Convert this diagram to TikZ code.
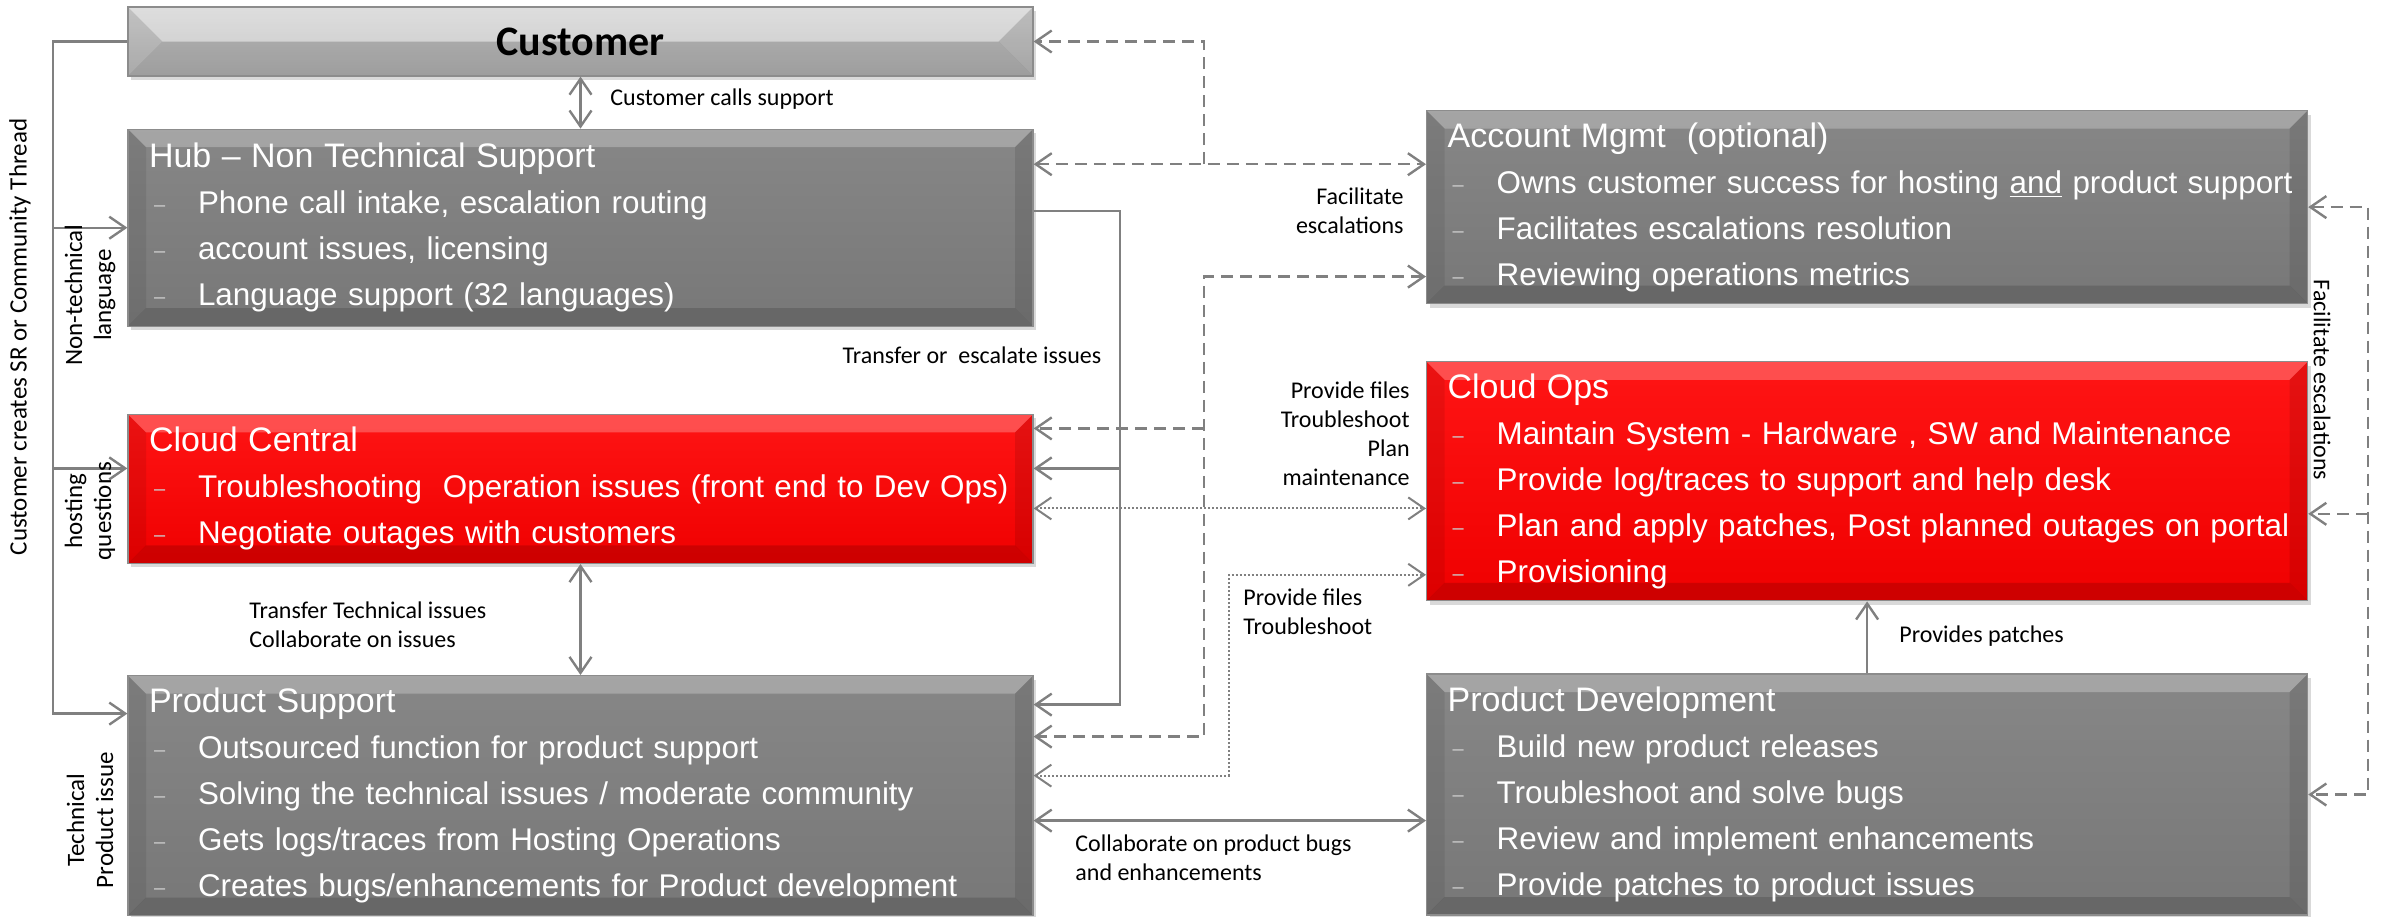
\documentclass[tikz,border=0pt]{standalone}
\usepackage{fontspec}
\setmainfont{Liberation Sans}
\newfontfamily\calib{Carlito}
\usepackage{tikz}
\usetikzlibrary{positioning,arrows.meta,shadows}
\definecolor{boxgray}{HTML}{7F7F7F}
\definecolor{boxred}{HTML}{FF0000}
\definecolor{custgray}{HTML}{C8C8C8}
\definecolor{lineg}{HTML}{808080}
\newcommand{\itm}[1]{\\\makebox[24.5pt][l]{\hspace{2.5pt}\raisebox{1pt}{\color{white!80!black}\fontsize{10pt}{10pt}\selectfont –}}\mbox{#1}}
\newcommand{\boxhead}[1]{{\fontsize{17pt}{23pt}\selectfont #1}}

\begin{document}
\begin{tikzpicture}[
x=0.5pt, y=-0.5pt,
>={Straight Barb[length=8pt,width=11pt]},
facets/.style 2 args={path picture={
  \path (path picture bounding box.north west) coordinate (f1)
        (path picture bounding box.north east) coordinate (f2)
        (path picture bounding box.south east) coordinate (f3)
        (path picture bounding box.south west) coordinate (f4);
  \path ([shift={(#1,-#2)}]f1) coordinate (g1) ([shift={(-#1,-#2)}]f2) coordinate (g2)
        ([shift={(-#1,#2)}]f3) coordinate (g3) ([shift={(#1,#2)}]f4) coordinate (g4);
  \fill[white,opacity=.25] (f1) -- (f2) -- (g2) -- (g1) -- cycle;
  \fill[black,opacity=.08] (f1) -- (g1) -- (g4) -- (f4) -- cycle;
  \fill[black,opacity=.10] (f2) -- (f3) -- (g3) -- (g2) -- cycle;
  \fill[black,opacity=.14] (f4) -- (g4) -- (g3) -- (f3) -- cycle;
}},
box/.style={draw=black!45, line width=0.6pt, align=left, inner xsep=10.5pt, inner ysep=0pt, text=white, font=\fontsize{15.7pt}{23pt}\selectfont, drop shadow={shadow xshift=1.5pt, shadow yshift=-2pt, opacity=.3}},
gbox/.style={box, top color=boxgray!94!white, bottom color=boxgray!94!black, facets={9pt}{9pt}},
rbox/.style={box, top color=boxred!92!white, bottom color=boxred!94!black, facets={9pt}{9pt}},
custbox/.style={draw=black!45, line width=0.6pt, top color=custgray!80!white, bottom color=custgray!92!black, facets={17.25pt}{17.25pt}, minimum width=452.5pt, minimum height=34.5pt, font=\calib\bfseries\fontsize{21pt}{24pt}\selectfont, drop shadow={shadow xshift=1.5pt, shadow yshift=-2pt, opacity=.3}},
leftcol/.style={text width=431.5pt},
rightcol/.style={text width=419.5pt},
arr/.style={->, line width=1.2pt, draw=lineg},
dl/.style={line width=1.2pt, draw=lineg, dash pattern=on 6pt off 3.5pt},
dotl/.style={line width=1pt, draw=lineg, dash pattern=on 1pt off 1pt},
lbl/.style={font=\calib\fontsize{12pt}{14.5pt}\selectfont, inner sep=0pt},
vlbl/.style={font=\calib\fontsize{12.5pt}{14.5pt}\selectfont, inner sep=0pt, align=center}
]
\useasboundingbox (0,0) rectangle (2391,916);

\node[custbox] (customer) at (580.5,41.5) {Customer};
\node[gbox, leftcol, minimum height=98.5pt, below=26pt of customer] (hub) {\boxhead{Hub – Non Technical Support}\itm{Phone call intake, escalation routing}\itm{account issues, licensing}\itm{Language support (32 languages)}};
\node[rbox, leftcol, minimum height=74.5pt, below=43.5pt of hub] (cc) {\boxhead{Cloud Central}\itm{Troubleshooting~ Operation issues (front end to Dev Ops)}\itm{Negotiate outages with customers}};
\node[gbox, leftcol, minimum height=120pt, below=55.5pt of cc] (ps) {\boxhead{Product Support}\itm{Outsourced function for product support}\itm{Solving the technical issues / moderate community}\itm{Gets logs/traces from Hosting Operations}\itm{Creates bugs/enhancements for Product development}};

\node[gbox, rightcol, minimum height=96.5pt, anchor=north west] (am) at (1426,110) {\boxhead{Account Mgmt~ (optional)}\itm{Owns customer success for hosting \underline{and} product support}\itm{Facilitates escalations resolution}\itm{Reviewing operations metrics}};
\node[rbox, rightcol, minimum height=119.5pt, below=28.5pt of am] (co) {\boxhead{Cloud Ops}\itm{Maintain System - Hardware , SW and Maintenance}\itm{Provide log/traces to support and help desk}\itm{Plan and apply patches, Post planned outages on portal}\itm{Provisioning}};
\node[gbox, rightcol, minimum height=120.5pt, below=36pt of co] (pd) {\boxhead{Product Development}\itm{Build new product releases}\itm{Troubleshoot and solve bugs}\itm{Review and implement enhancements}\itm{Provide patches to product issues}};

\coordinate (trL) at (53,0);
\coordinate (trR) at (1120,0);
\coordinate (trD) at (1204,0);
\coordinate (trP) at (1229,0);
\coordinate (trE) at (2368,0);
\coordinate (ps-l) at ([yshift=41pt]ps.west);
\coordinate (cc-l) at ([yshift=10.25pt]cc.west);
\coordinate (hub-r1) at ([yshift=8.25pt]hub.east);
\coordinate (hub-r2) at ([yshift=31.75pt]hub.east);
\coordinate (cc-r1) at ([yshift=10.25pt]cc.east);
\coordinate (cc-r2) at ([yshift=30.25pt]cc.east);
\coordinate (cc-r3) at ([yshift=-9.75pt]cc.east);
\coordinate (ps-r1) at ([yshift=45.5pt]ps.east);
\coordinate (ps-r2) at ([yshift=29.5pt]ps.east);
\coordinate (ps-r3) at ([yshift=10pt]ps.east);
\coordinate (ps-r4) at ([yshift=-12.5pt]ps.east);
\coordinate (am-l2) at ([yshift=-34.75pt]am.west);
\coordinate (co-l2) at ([yshift=-46.75pt]co.west);
\coordinate (co-r) at ([yshift=-16.25pt]co.east);

\draw[arr] (customer.west) -| (trL |- ps-l) -- (ps-l);
\draw[arr] (trL |- hub.west) -- (hub.west);
\draw[arr] (trL |- cc-l) -- (cc-l);
\draw[arr,<->] (customer.south) -- (hub.north);
\draw[arr,<->] (cc.south) -- (ps.north);
\draw[arr] (hub-r1) -| (trR |- ps-r1) -- (ps-r1);
\draw[arr] (trR |- cc-r1) -- (cc-r1);
\draw[dl,<->] (hub-r2) -- (hub-r2 -| am.west);
\draw[dl,->] (trD |- hub-r2) |- (customer.east);
\draw[dl,<->] (am-l2) -| (trD |- ps-r2) -- (ps-r2);
\draw[dl,->] (trD |- cc-r2) -- (cc-r2);
\draw[dotl,<->] (cc-r3) -- (cc-r3 -| co.west);
\draw[dotl,<->] (ps-r3) -| (trP |- co-l2) -- (co-l2);
\draw[arr,<->] (ps-r4) -- (ps-r4 -| pd.west);
\draw[arr] (pd.north) -- (co.south);
\draw[dl,<->] (am.east) -| (trE |- pd.east) -- (pd.east);
\draw[dl,->] (trE |- co-r) -- (co-r);

\node[lbl, anchor=west] (l-call) at (610,99) {Customer calls support};
\node[lbl] (l-transfer) at (972,355) {Transfer or~ escalate issues};
\node[lbl, align=right, anchor=east] (l-facil) at (1404,211) {Facilitate\\escalations};
\node[lbl, align=right, anchor=east] (l-files1) at (1410,434) {Provide files\\Troubleshoot\\Plan\\maintenance};
\node[lbl, align=left, anchor=west] (l-files2) at (1243,612) {Provide files\\Troubleshoot};
\node[lbl, align=left, anchor=west] (l-bugs) at (1075,858) {Collaborate on product bugs\\and enhancements};
\node[lbl, anchor=west] (l-patch) at (1899,636) {Provides patches};
\node[lbl, align=left, anchor=west] (l-tech) at (249,625) {Transfer Technical issues\\Collaborate on issues};
\node[vlbl, rotate=90] (l-sr) at (20,337) {Customer creates SR or Community Thread};
\node[vlbl, rotate=90] (l-nontech) at (90,295) {Non-technical\\language};
\node[vlbl, rotate=90] (l-host) at (90,511) {hosting\\questions};
\node[vlbl, rotate=90] (l-prod) at (90,820) {Technical\\Product issue};
\node[lbl, rotate=-90] (l-esc) at (2322,380) {Facilitate escalations};
\end{tikzpicture}
\end{document}
